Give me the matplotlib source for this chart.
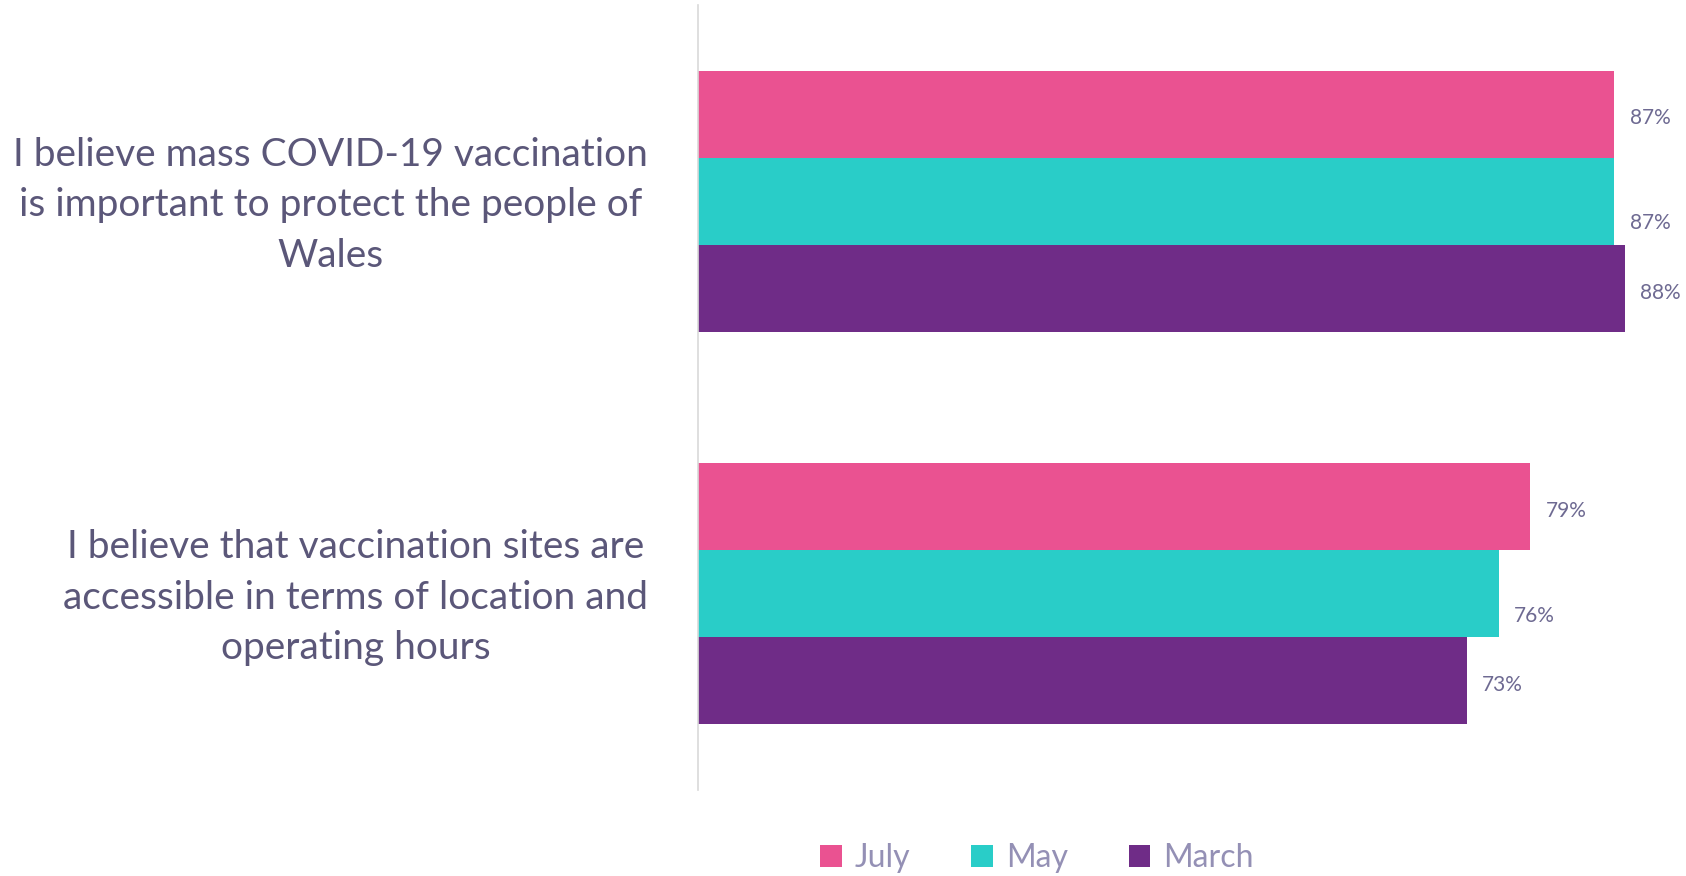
import numpy as np
import matplotlib.pyplot as plt

# data
statements = ['I believe mass COVID-19 vaccination\nis important to protect the people of\nWales',
              'I believe that vaccination sites are\naccessible in terms of location and\noperating hours']
series = ['July', 'May', 'March']
july = [87, 79]
may = [87, 76]
march = [88, 73]

colors = ['#EA5291', '#29CDC8', '#6F2C87']
text_col = '#5B5779'
label_col = '#6E6A92'
legend_col = '#9490B5'

plt.rcParams['font.family'] = ['Lato', 'DejaVu Sans']

fig = plt.figure(figsize=(16.86, 8.76), dpi=100)
ax = fig.add_axes([698 / 1686, 86 / 876, 1 - 698 / 1686, 785 / 876])

y = np.arange(len(statements))
h = 0.222
# vertical nudge of the value labels (points), per series
nudge = [-3, -16, -3]
for i, (vals, name) in enumerate(zip([july, may, march], series)):
    bars = ax.barh(y + (i - 1) * h, vals, height=h, color=colors[i], label=name)
    for b, v in zip(bars, vals):
        ax.annotate(f'{v}%', (b.get_width(), b.get_y() + b.get_height() / 2),
                    xytext=(11, nudge[i]), textcoords='offset points',
                    ha='left', va='center', fontsize=15, color=label_col)

ax.set_xlim(0, 93.8)
ax.set_ylim(1.5, -0.5)
# invisible ticks, nudged up a little so the text sits like the original
ax.set_yticks(y - 0.017)
ax.set_yticklabels(statements, fontsize=28, color=text_col,
                   multialignment='center', linespacing=1.5)
ax.tick_params(axis='y', length=0, pad=36)
ax.set_xticks([])
for s in ['top', 'right', 'bottom']:
    ax.spines[s].set_visible(False)
ax.spines['left'].set_color('#D9D9D9')
ax.spines['left'].set_linewidth(1.2)

leg = fig.legend(loc='center', bbox_to_anchor=(1037 / 1686, 1 - 858 / 876), ncol=3,
                 frameon=False, fontsize=23, handlelength=0.68, handleheight=0.68,
                 handletextpad=0.4, columnspacing=1.9)
for t in leg.get_texts():
    t.set_color(legend_col)

fig.savefig('out.png', dpi=100)
